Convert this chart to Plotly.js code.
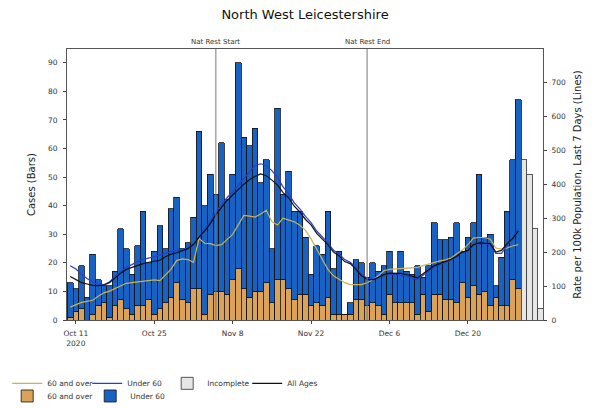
<!DOCTYPE html>
<html>
<head>
<meta charset="utf-8">
<script src="https://cdn.plot.ly/plotly-3.0.1.min.js"></script>
<style>html,body{margin:0;padding:0;background:#fff;}#chart{width:600px;height:408px;}</style>
</head>
<body>
<div id="chart"></div>
<script>
// ---- data ----
const startDate = '2020-10-10';
// daily cases, 60 and over (complete days, Oct 10 .. Dec 30)
const cases60plus = [1,3,4,0,2,5,6,1,5,7, 4,2,5,5,7,2,4,6,8,13, 7,6,11,11,2,9,10,10,9,14,
  18,11,8,10,10,13,6,14,14,11, 7,9,9,5,6,5,8,2,2,2, 2,7,7,5,6,5,2,9,6,6,
  6,6,2,9,3,9,9,7,7,6, 13,8,12,9,10,5,8,5,5,14, 11];
// daily cases, under 60
const casesUnder60 = [12,8,15,8,21,9,6,11,12,25, 21,14,21,33,13,22,29,19,31,30, 18,21,25,55,38,42,34,52,33,37,
  72,53,53,57,38,43,19,60,30,41, 31,29,20,11,20,18,30,16,22,0, 4,14,13,10,14,12,17,15,10,18,
  11,10,17,6,16,25,19,21,22,28, 11,21,22,42,19,25,4,17,33,42, 66];
// incomplete days, all ages
const casesIncomplete = [56,51,32,4];
// 7-day rate per 100k, lines
const rate60plus = [38,45,52,55,58,70,80,85,92,100, 108,110,112,113,116,118,116,134,150,175, 180,178,170,240,226,225,219,222,238,252,
  280,308,306,303,312,323,290,280,300,294, 289,279,264,239,210,180,149,130,119,110, 104,104,104,110,118,130,145,149,150,153,
  154,154,155,160,165,170,174,177,182,195, 205,222,241,243,243,238,212,209,212,218, 222];
const rateUnder60 = [160,150,135,122,112,106,104,112,128,142, 155,163,172,178,182,188,192,196,202,205, 210,212,222,245,266,290,318,340,360,378,
  398,418,438,455,460,455,440,420,392,372, 345,327,305,287,262,245,228,205,195,178, 170,155,135,123,120,125,130,135,134,132,
  130,124,120,132,144,157,163,170,176,186, 200,203,220,225,225,222,196,196,220,240, 268];
const rateAllAges = [128,118,110,106,102,101,103,110,125,138, 149,155,160,166,170,174,176,186,194,198, 205,210,222,244,262,284,310,330,352,368,
  385,400,413,423,430,425,412,398,375,360, 335,318,296,280,255,240,222,200,189,172, 166,150,130,120,118,125,134,138,138,137,
  134,128,124,136,148,160,166,172,179,188, 200,205,222,227,227,225,200,205,225,240, 262];
const xTickStart = '2020-10-11';
const natRestStart = '2020-11-05';
const natRestEnd = '2020-12-02';

// ---- build dates ----
function addDays(s, n){
  const d = new Date(s + 'T00:00:00Z'); d.setUTCDate(d.getUTCDate() + n);
  return d.toISOString().slice(0,10);
}
const nComplete = cases60plus.length;
const datesComplete = cases60plus.map((_, i) => addDays(startDate, i));
const datesIncomplete = casesIncomplete.map((_, i) => addDays(startDate, nComplete + i));
const DAY = 86400000;

const edge = {color:'#111', width:0.8};
const traces = [
  {type:'bar', x:datesComplete, y:cases60plus, name:'60 and over', width:DAY,
   marker:{color:'#dba35a', line:edge}, legend:'legend2', legendrank:1, yaxis:'y'},
  {type:'bar', x:datesComplete, y:casesUnder60, name:'Under 60', width:DAY,
   marker:{color:'#1862c4', line:edge}, legend:'legend2', legendrank:2, yaxis:'y'},
  {type:'bar', x:datesIncomplete, y:casesIncomplete, name:'Incomplete', width:DAY,
   marker:{color:'#e6e6e6', line:{color:'#444', width:0.9}}, legend:'legend', legendrank:3, yaxis:'y'},
  {type:'scatter', mode:'lines', x:datesComplete, y:rate60plus, name:'60 and over',
   line:{color:'#c9b450', width:1.2}, legend:'legend', legendrank:1, yaxis:'y2'},
  {type:'scatter', mode:'lines', x:datesComplete, y:rateUnder60, name:'Under 60',
   line:{color:'#2a3fc8', width:1.2}, legend:'legend', legendrank:2, yaxis:'y2'},
  {type:'scatter', mode:'lines', x:datesComplete, y:rateAllAges, name:'All Ages',
   line:{color:'#111', width:1.2}, legend:'legend', legendrank:4, yaxis:'y2'}
];

const tickFont = {family:'DejaVu Sans', size:7.5, color:'#333'};
const legFont = {family:'DejaVu Sans', size:7.5, color:'#333'};
const layout = {
  width:600, height:408,
  margin:{l:67, r:57, t:49, b:88},
  paper_bgcolor:'#fff', plot_bgcolor:'#fff',
  font:{family:'DejaVu Sans', color:'#222'},
  title:{text:'North West Leicestershire', x:0.5, xref:'paper', y:0.975, yanchor:'top',
         font:{family:'DejaVu Sans', size:13, color:'#111'}},
  barmode:'stack', bargap:0,
  showlegend:true,
  xaxis:{type:'date', range:['2020-10-09 10:00','2021-01-02 10:00'],
         tick0:xTickStart, dtick:14*DAY, automargin:false,
         ticks:'outside', ticklen:3, tickcolor:'#444', tickfont:tickFont, ticklabelstandoff:3,
         showgrid:false, zeroline:false, showline:true, linecolor:'#555', linewidth:1, mirror:true},
  yaxis:{range:[0,94.8], dtick:10, ticks:'outside', ticklen:3, tickcolor:'#444', tickfont:tickFont,
         ticklabelstandoff:4, automargin:false,
         showgrid:false, zeroline:false, showline:true, linecolor:'#555', linewidth:1,
         title:{text:'Cases (Bars)', font:{family:'DejaVu Sans', size:10, color:'#222'}, standoff:10}},
  yaxis2:{overlaying:'y', side:'right', range:[0,798], dtick:100, ticks:'outside', ticklen:3, automargin:false,
          tickcolor:'#444', tickfont:tickFont, ticklabelstandoff:3, showgrid:false, zeroline:false,
          showline:true, linecolor:'#555', linewidth:1,
          title:{text:'Rate per 100k Population, Last 7 Days (Lines)', font:{family:'DejaVu Sans', size:10, color:'#222'}, standoff:8}},
  legend:{orientation:'h', traceorder:'normal', xref:'container', yref:'container', x:0.012, xanchor:'left', y:0.096, yanchor:'top',
          font:legFont, bgcolor:'rgba(0,0,0,0)', itemwidth:30, entrywidth:35},
  legend2:{orientation:'h', traceorder:'normal', xref:'container', yref:'container', x:0.012, xanchor:'left', y:0.065, yanchor:'top',
          font:legFont, bgcolor:'rgba(0,0,0,0)', itemwidth:30, entrywidth:38},
  shapes:[
    {type:'line', xref:'x', yref:'paper', x0:natRestStart, x1:natRestStart, y0:0, y1:1, line:{color:'#777', width:1}},
    {type:'line', xref:'x', yref:'paper', x0:natRestEnd, x1:natRestEnd, y0:0, y1:1, line:{color:'#777', width:1}}
  ],
  annotations:[
    {text:'Nat Rest Start', xref:'x', yref:'paper', x:natRestStart, y:1, yanchor:'bottom', yshift:1, showarrow:false,
     font:{family:'DejaVu Sans', size:7, color:'#333'}},
    {text:'Nat Rest End', xref:'x', yref:'paper', x:natRestEnd, y:1, yanchor:'bottom', yshift:1, showarrow:false,
     font:{family:'DejaVu Sans', size:7, color:'#333'}}
  ]
};
Plotly.newPlot('chart', traces, layout, {displayModeBar:false, staticPlot:true});
</script>
</body>
</html>
